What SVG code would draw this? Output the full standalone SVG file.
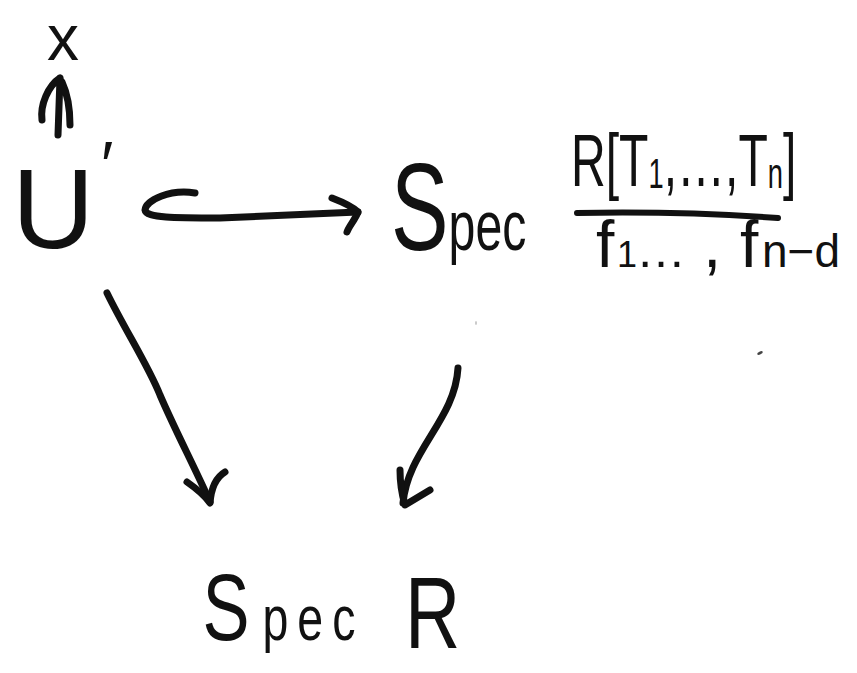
<svg xmlns="http://www.w3.org/2000/svg" width="857" height="673" viewBox="0 0 857 673">
<style>
  .lbl { font-family: "Liberation Sans", "DejaVu Sans", sans-serif; fill: #111; }
  .ln { fill: none; stroke: #111; stroke-width: 7; stroke-linecap: round; stroke-linejoin: round; }
  .thin { stroke-width: 6; }
</style>
<rect width="857" height="673" fill="#fff"/>
<g id="node-x">
  <text class="lbl" x="63" y="60" font-size="64" text-anchor="middle">x</text>
</g>
<g id="node-U">
  <text class="lbl" x="12" y="248" font-size="114">U<tspan x="101" y="188" font-size="66">′</tspan></text>
</g>
<g id="node-specfrac">
  <text class="lbl" transform="translate(391,250) scale(0.69,1)"><tspan font-size="125">S</tspan><tspan font-size="70">pec</tspan></text>
  <text class="lbl" transform="translate(571,186) scale(0.65,1)" font-size="74">R[T<tspan font-size="42" dy="2">1</tspan><tspan dy="-2">,…,T</tspan><tspan font-size="42" dy="2">n</tspan><tspan dy="-2">]</tspan></text>
  <path class="ln thin" d="M577,213 Q680,211 778,218"/>
  <text class="lbl" y="267" font-size="66"><tspan x="596">f</tspan><tspan x="617" font-size="36">1</tspan><tspan x="636" font-size="50">…</tspan><tspan x="703">,</tspan><tspan x="740">f</tspan><tspan x="762" font-size="46">n−d</tspan></text>
</g>
<g id="node-specR">
  <text class="lbl" transform="scale(0.75,1)" y="640"><tspan x="270" font-size="94">S</tspan><tspan x="350" font-size="62" letter-spacing="12">pec</tspan><tspan x="540" y="648" font-size="102">R</tspan></text>
</g>
<g id="connectors">
  <path class="ln" d="M58,135 L60,78 M60,78 C48,86 40,105 42,120 M62,82 C68,95 70,110 70,125"/>
  <path class="ln" d="M195,193 C170,189 146,200 145,210 C146,218 175,218 220,218 L358,212"/>
  <path class="ln" d="M332,198 C345,203 354,208 358,212 C355,220 349,226 347,232"/>
  <path class="ln" d="M107,293 C125,330 148,365 160,395 C175,430 196,470 210,502"/>
  <path class="ln" d="M187,482 C197,489 205,496 210,503 C211,490 215,478 225,472"/>
  <path class="ln" d="M458,368 C455,420 408,450 403,503"/>
  <path class="ln" d="M400,470 C400,485 402,495 405,505 L430,490"/>
</g>
<ellipse cx="760" cy="353" rx="3" ry="1.5" transform="rotate(-25 760 353)" fill="#444"/>
<ellipse cx="476" cy="323" rx="0.8" ry="2" fill="#bbb"/>
</svg>
